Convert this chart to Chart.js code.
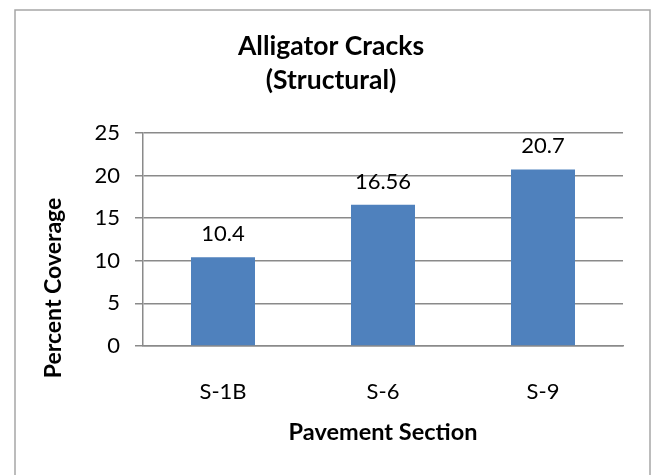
<!DOCTYPE html>
<html>
<head>
<meta charset="utf-8">
<script src="https://cdn.jsdelivr.net/npm/chart.js@4/dist/chart.umd.min.js"></script>
<style>
  html, body { margin: 0; padding: 0; background: #ffffff; }
  #wrap { width: 656px; height: 475px; position: relative; }
</style>
</head>
<body>
<div id="wrap"><canvas id="c" width="656" height="475"></canvas></div>
<script>
const categories = ['S-1B', 'S-6', 'S-9'];
const coverage = [10.4, 16.56, 20.7];
const coverageLabels = ['10.4', '16.56', '20.7'];
const titleLines = ['Alligator Cracks', '(Structural)'];
const xAxisTitle = 'Pavement Section';
const yAxisTitle = 'Percent Coverage';
const yMin = 0, yMax = 25, yStep = 5;

const FONT = 'Lato, "Open Sans", "Liberation Sans", sans-serif';
const GRID = '#8a8a8a';

const framePlugin = {
  id: 'frame',
  beforeDraw(chart) {
    const ctx = chart.ctx;
    ctx.save();
    ctx.fillStyle = '#ffffff';
    ctx.fillRect(0, 0, chart.width, chart.height);
    ctx.strokeStyle = '#a6a6a6';
    ctx.lineWidth = 1.5;
    ctx.strokeRect(15, 10, 635, 480);
    ctx.restore();
  }
};

const labelsPlugin = {
  id: 'barLabels',
  afterDatasetsDraw(chart) {
    const ctx = chart.ctx;
    const meta = chart.getDatasetMeta(0);
    ctx.save();
    ctx.fillStyle = '#000000';
    ctx.font = '22px ' + FONT;
    ctx.textAlign = 'center';
    ctx.textBaseline = 'alphabetic';
    meta.data.forEach((bar, i) => {
      ctx.fillText(coverageLabels[i], bar.x, bar.y - 16);
    });
    ctx.restore();
  }
};

const yTitlePlugin = {
  id: 'yTitle',
  afterDraw(chart) {
    const ctx = chart.ctx;
    const a = chart.chartArea;
    ctx.save();
    ctx.translate(54, a.bottom - 58);
    ctx.rotate(-Math.PI / 2);
    ctx.fillStyle = '#000000';
    ctx.font = 'bold 23px ' + FONT;
    ctx.textAlign = 'center';
    ctx.textBaseline = 'middle';
    ctx.fillText(yAxisTitle, 0, 0);
    ctx.restore();
  }
};

new Chart(document.getElementById('c'), {
  type: 'bar',
  data: {
    labels: categories,
    datasets: [{
      data: coverage,
      backgroundColor: '#4F81BD',
      borderWidth: 0,
      barPercentage: 0.4,
      categoryPercentage: 1.0
    }]
  },
  options: {
    responsive: false,
    animation: false,
    devicePixelRatio: 1,
    layout: { padding: { left: 6, right: 0, top: 0, bottom: 0 } },
    plugins: {
      legend: { display: false },
      tooltip: { enabled: false },
      title: {
        display: true,
        text: titleLines,
        color: '#000000',
        font: { family: FONT, size: 26.5, weight: 'bold', lineHeight: 1.26 },
        padding: { top: 30, bottom: 36 }
      }
    },
    scales: {
      x: {
        grid: { display: false },
        border: { display: true, color: GRID, width: 1.5 },
        ticks: { color: '#000000', font: { family: FONT, size: 22 }, padding: 25 },
        title: {
          display: true,
          text: xAxisTitle,
          color: '#000000',
          font: { family: FONT, size: 23.5, weight: 'bold', lineHeight: 1.2 },
          padding: { top: 0, bottom: 28 }
        },
        afterFit(s) { s.height = 129; }
      },
      y: {
        min: yMin,
        max: yMax,
        ticks: { stepSize: yStep, color: '#000000', font: { family: FONT, size: 22 }, padding: 15 },
        grid: { color: GRID, lineWidth: 1.5, tickLength: 8, drawTicks: true },
        border: { display: true, color: GRID, width: 1.5 },
        afterFit(s) { s.width = 137; }
      },
      yRight: {
        position: 'right',
        display: true,
        grid: { display: false },
        border: { display: false },
        ticks: { display: false },
        afterFit(s) { s.width = 33; }
      }
    }
  },
  plugins: [framePlugin, labelsPlugin, yTitlePlugin]
});
</script>
</body>
</html>
